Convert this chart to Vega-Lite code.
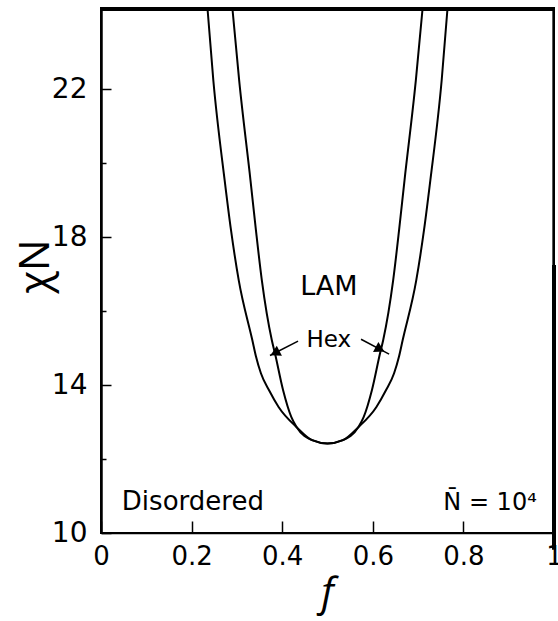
{
  "$schema": "https://vega.github.io/schema/vega-lite/v6.json",
  "width": 453,
  "height": 525,
  "autosize": "none",
  "padding": {"left": 101, "top": 8, "right": 4, "bottom": 88},
  "background": "white",
  "view": {"stroke": "black", "strokeWidth": 2},
  "config": {
    "view": {"stroke": "black", "strokeWidth": 2},
    "font": "DejaVu Sans"
  },
  "datasets": {
    "curves": [
      {"curve": "ODT", "f": 0.235, "chiN": 24.2},
      {"curve": "ODT", "f": 0.248, "chiN": 22.24},
      {"curve": "ODT", "f": 0.273, "chiN": 19.54},
      {"curve": "ODT", "f": 0.287, "chiN": 18.19},
      {"curve": "ODT", "f": 0.304, "chiN": 16.84},
      {"curve": "ODT", "f": 0.334, "chiN": 15.22},
      {"curve": "ODT", "f": 0.342, "chiN": 14.78},
      {"curve": "ODT", "f": 0.353, "chiN": 14.32},
      {"curve": "ODT", "f": 0.371, "chiN": 13.86},
      {"curve": "ODT", "f": 0.392, "chiN": 13.41},
      {"curve": "ODT", "f": 0.432, "chiN": 12.86},
      {"curve": "ODT", "f": 0.466, "chiN": 12.51},
      {"curve": "ODT", "f": 0.5, "chiN": 12.42},
      {"curve": "ODT", "f": 0.534, "chiN": 12.51},
      {"curve": "ODT", "f": 0.568, "chiN": 12.86},
      {"curve": "ODT", "f": 0.608, "chiN": 13.41},
      {"curve": "ODT", "f": 0.629, "chiN": 13.86},
      {"curve": "ODT", "f": 0.647, "chiN": 14.32},
      {"curve": "ODT", "f": 0.658, "chiN": 14.78},
      {"curve": "ODT", "f": 0.666, "chiN": 15.22},
      {"curve": "ODT", "f": 0.696, "chiN": 16.84},
      {"curve": "ODT", "f": 0.713, "chiN": 18.19},
      {"curve": "ODT", "f": 0.727, "chiN": 19.54},
      {"curve": "ODT", "f": 0.752, "chiN": 22.24},
      {"curve": "ODT", "f": 0.765, "chiN": 24.2},
      {"curve": "LAM-Hex", "f": 0.29, "chiN": 24.2},
      {"curve": "LAM-Hex", "f": 0.305, "chiN": 22.24},
      {"curve": "LAM-Hex", "f": 0.33, "chiN": 19.54},
      {"curve": "LAM-Hex", "f": 0.342, "chiN": 18.19},
      {"curve": "LAM-Hex", "f": 0.355, "chiN": 16.84},
      {"curve": "LAM-Hex", "f": 0.377, "chiN": 15.22},
      {"curve": "LAM-Hex", "f": 0.384, "chiN": 14.86},
      {"curve": "LAM-Hex", "f": 0.402, "chiN": 13.86},
      {"curve": "LAM-Hex", "f": 0.42, "chiN": 13.14},
      {"curve": "LAM-Hex", "f": 0.432, "chiN": 12.86},
      {"curve": "LAM-Hex", "f": 0.466, "chiN": 12.51},
      {"curve": "LAM-Hex", "f": 0.5, "chiN": 12.42},
      {"curve": "LAM-Hex", "f": 0.534, "chiN": 12.51},
      {"curve": "LAM-Hex", "f": 0.568, "chiN": 12.86},
      {"curve": "LAM-Hex", "f": 0.58, "chiN": 13.14},
      {"curve": "LAM-Hex", "f": 0.598, "chiN": 13.86},
      {"curve": "LAM-Hex", "f": 0.616, "chiN": 14.86},
      {"curve": "LAM-Hex", "f": 0.623, "chiN": 15.22},
      {"curve": "LAM-Hex", "f": 0.645, "chiN": 16.84},
      {"curve": "LAM-Hex", "f": 0.658, "chiN": 18.19},
      {"curve": "LAM-Hex", "f": 0.67, "chiN": 19.54},
      {"curve": "LAM-Hex", "f": 0.695, "chiN": 22.24},
      {"curve": "LAM-Hex", "f": 0.71, "chiN": 24.2}
    ],
    "arrows": [
      {"side": "left", "f": 0.435, "chiN": 15.19, "f2": 0.373, "chiN2": 14.8},
      {"side": "right", "f": 0.574, "chiN": 15.24, "f2": 0.636, "chiN2": 14.84}
    ],
    "heads": [
      {"side": "left", "f": 0.384, "chiN": 14.87},
      {"side": "right", "f": 0.616, "chiN": 14.97}
    ],
    "notes": [
      {"label": "LAM", "f": 0.503, "chiN": 16.65},
      {"label": "Hex", "f": 0.503, "chiN": 15.22},
      {"label": "Disordered", "f": 0.046, "chiN": 10.62},
      {"label": "N̄ = 10⁴", "f": 0.962, "chiN": 10.62}
    ],
    "edge": [
      {"f": 1, "chiN": 9.55, "chiN2": 17.25}
    ],
    "border": [
      {"f": 0, "f2": 1, "chiN": 24.15}
    ],
    "rightborder": [
      {"f": 0.998, "chiN": 17.25, "chiN2": 24.2}
    ]
  },
  "layer": [
    {
      "data": {"name": "curves"},
      "mark": {"type": "line", "color": "black", "strokeWidth": 2, "interpolate": "monotone"},
      "encoding": {
        "x": {
          "field": "f", "type": "quantitative",
          "scale": {"domain": [0, 1], "nice": false, "zero": false},
          "axis": {
            "values": [0, 0.2, 0.4, 0.6, 0.8, 1],
            "format": "~g",
            "labelFlush": false,
            "grid": false,
            "tickSize": -12,
            "tickWidth": 1.5,
            "tickColor": "black",
            "domainColor": "black",
            "domainWidth": 1.5,
            "labelPadding": 22,
            "labelFont": "DejaVu Sans",
            "labelFontSize": 26,
            "labelColor": "black",
            "title": "f",
            "titleFont": "Open Sans",
            "titleFontStyle": "italic",
            "titleFontWeight": "normal",
            "titleFontSize": 40,
            "titleColor": "black",
            "titleX": 226,
            "titleY": 72,
            "titleBaseline": "alphabetic"
          }
        },
        "y": {
          "field": "chiN", "type": "quantitative",
          "scale": {"domain": [10, 24.2], "nice": false, "zero": false},
          "axis": {
            "values": [10, 12, 14, 16, 18, 20, 22],
            "labelExpr": "datum.value % 4 == 2 ? datum.label : ''",
            "grid": false,
            "tickSize": {"condition": {"test": "datum.value % 4 == 0", "value": -5}, "value": -10},
            "tickWidth": 1.5,
            "tickColor": "black",
            "domainColor": "black",
            "domainWidth": 2.5,
            "labelPadding": 24,
            "labelFont": "DejaVu Sans",
            "labelFontSize": 28,
            "labelColor": "black",
            "title": "χN",
            "titleFont": "Open Sans",
            "titleFontWeight": "normal",
            "titleFontSize": 42,
            "titleColor": "black",
            "titleX": -53,
            "titleY": 258,
            "titleBaseline": "alphabetic"
          }
        },
        "detail": {"field": "curve", "type": "nominal"}
      }
    },
    {
      "data": {"name": "border"},
      "mark": {"type": "rule", "color": "black", "strokeWidth": 2.5},
      "encoding": {
        "x": {"field": "f", "type": "quantitative"},
        "x2": {"field": "f2"},
        "y": {"field": "chiN", "type": "quantitative"}
      }
    },
    {
      "data": {"name": "rightborder"},
      "mark": {"type": "rule", "color": "black", "strokeWidth": 1.5},
      "encoding": {
        "x": {"field": "f", "type": "quantitative"},
        "y": {"field": "chiN", "type": "quantitative"},
        "y2": {"field": "chiN2"}
      }
    },
    {
      "data": {"name": "arrows"},
      "mark": {"type": "rule", "color": "black", "strokeWidth": 1.5},
      "encoding": {
        "x": {"field": "f", "type": "quantitative"},
        "y": {"field": "chiN", "type": "quantitative"},
        "x2": {"field": "f2"},
        "y2": {"field": "chiN2"}
      }
    },
    {
      "data": {"name": "heads"},
      "transform": [{"filter": "datum.side == 'left'"}],
      "mark": {"type": "point", "shape": "triangle-left", "filled": true, "color": "black", "size": 130, "angle": 333, "opacity": 1},
      "encoding": {
        "x": {"field": "f", "type": "quantitative"},
        "y": {"field": "chiN", "type": "quantitative"}
      }
    },
    {
      "data": {"name": "heads"},
      "transform": [{"filter": "datum.side == 'right'"}],
      "mark": {"type": "point", "shape": "triangle-right", "filled": true, "color": "black", "size": 130, "angle": 28, "opacity": 1},
      "encoding": {
        "x": {"field": "f", "type": "quantitative"},
        "y": {"field": "chiN", "type": "quantitative"}
      }
    },
    {
      "data": {"name": "edge"},
      "mark": {"type": "rule", "color": "black", "strokeWidth": 4},
      "encoding": {
        "x": {"field": "f", "type": "quantitative"},
        "y": {"field": "chiN", "type": "quantitative"},
        "y2": {"field": "chiN2"}
      }
    },
    {
      "data": {"name": "notes"},
      "transform": [{"filter": "datum.label == 'LAM'"}],
      "mark": {"type": "text", "font": "DejaVu Sans", "fontSize": 27, "align": "center", "baseline": "middle", "color": "black"},
      "encoding": {
        "x": {"field": "f", "type": "quantitative"},
        "y": {"field": "chiN", "type": "quantitative"},
        "text": {"field": "label"}
      }
    },
    {
      "data": {"name": "notes"},
      "transform": [{"filter": "datum.label == 'Hex'"}],
      "mark": {"type": "text", "font": "DejaVu Sans", "fontSize": 23, "align": "center", "baseline": "middle", "color": "black"},
      "encoding": {
        "x": {"field": "f", "type": "quantitative"},
        "y": {"field": "chiN", "type": "quantitative"},
        "text": {"field": "label"}
      }
    },
    {
      "data": {"name": "notes"},
      "transform": [{"filter": "datum.label == 'Disordered'"}],
      "mark": {"type": "text", "font": "DejaVu Sans", "fontSize": 26, "align": "left", "baseline": "alphabetic", "color": "black"},
      "encoding": {
        "x": {"field": "f", "type": "quantitative"},
        "y": {"field": "chiN", "type": "quantitative"},
        "text": {"field": "label"}
      }
    },
    {
      "data": {"name": "notes"},
      "transform": [{"filter": "datum.label != 'LAM' && datum.label != 'Hex' && datum.label != 'Disordered'"}],
      "mark": {"type": "text", "font": "DejaVu Sans", "fontSize": 24, "align": "right", "baseline": "alphabetic", "color": "black"},
      "encoding": {
        "x": {"field": "f", "type": "quantitative"},
        "y": {"field": "chiN", "type": "quantitative"},
        "text": {"field": "label"}
      }
    }
  ]
}
